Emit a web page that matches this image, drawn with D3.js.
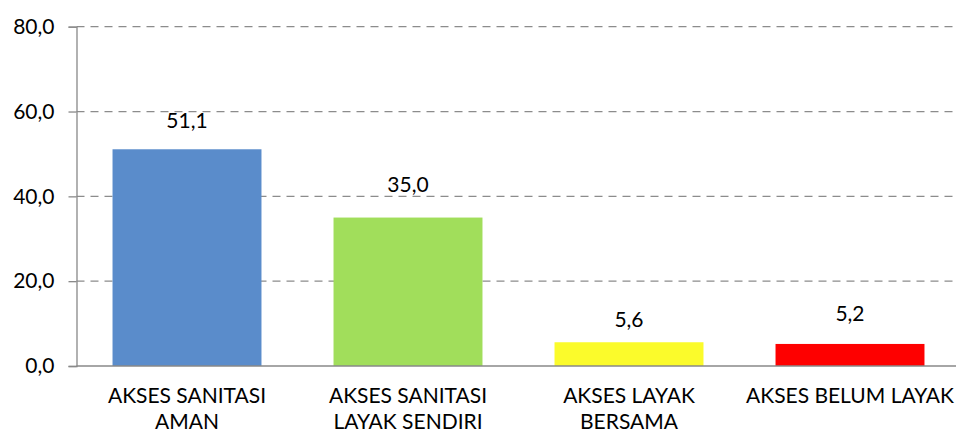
<!DOCTYPE html>
<html>
<head>
<meta charset="utf-8">
<script src="https://cdn.jsdelivr.net/npm/d3@7"></script>
<style>
  html, body { margin: 0; padding: 0; background: #fff; }
  svg { display: block; }
  text { font-family: Lato, "Liberation Sans", sans-serif; fill: #000; }
</style>
</head>
<body>
<svg id="chart" width="956" height="433"></svg>
<script>
// Sanitation access shares (%)
const categories = ["AKSES SANITASI AMAN", "AKSES SANITASI LAYAK SENDIRI", "AKSES LAYAK BERSAMA", "AKSES BELUM LAYAK"];
const categoryLines = [["AKSES SANITASI", "AMAN"], ["AKSES SANITASI", "LAYAK SENDIRI"], ["AKSES LAYAK", "BERSAMA"], ["AKSES BELUM LAYAK"]];
const values = [51.1, 35.0, 5.6, 5.2];
const yTicks = [0, 20, 40, 60, 80];
const barColors = ["#5a8ccb", "#a1de5b", "#fbfb2b", "#fe0000"];
// vertical nudge of each value label above its bar (px)
const labelLift = [21, 25.5, 15.5, 23];

const svg = d3.select("#chart");
const plotLeft = 76.5, plotRight = 960.5, plotTop = 26.7, plotBottom = 366;
const fontSize = 21;
const fmt = v => d3.format(".1f")(v).replace(".", ",");

const x = d3.scaleBand().domain(categories).range([plotLeft, plotRight])
  .paddingInner(0.326).paddingOuter(0.163);
const y = d3.scaleLinear().domain([0, 80]).range([plotBottom, plotTop]);

// dashed gridlines
svg.append("g").selectAll("line").data(yTicks.filter(t => t > 0)).join("line")
  .attr("x1", plotLeft).attr("x2", 953)
  .attr("y1", d => y(d)).attr("y2", d => y(d))
  .attr("stroke", "#8c8c8c").attr("stroke-width", 1.3)
  .attr("stroke-dasharray", "8,6");

// bars
svg.append("g").selectAll("rect").data(values).join("rect")
  .attr("x", (d, i) => x(categories[i]))
  .attr("width", x.bandwidth())
  .attr("y", d => y(d))
  .attr("height", d => y(0) - y(d))
  .attr("fill", (d, i) => barColors[i]);

// y axis
const yAxis = d3.axisLeft(y).tickValues(yTicks).tickFormat(fmt).tickSize(8).tickPadding(14);
const gy = svg.append("g").attr("transform", `translate(${plotLeft},0)`).call(yAxis);
gy.select(".domain").attr("stroke", "#898989").attr("stroke-width", 1.3);
gy.selectAll(".tick line").attr("stroke", "#898989").attr("stroke-width", 1.3);
gy.selectAll(".tick text").style("font-size", fontSize + "px").attr("fill", "#000")
  .style("font-family", "Lato, 'Liberation Sans', sans-serif");

// x baseline
svg.append("line").attr("x1", plotLeft).attr("x2", 956)
  .attr("y1", y(0)).attr("y2", y(0))
  .attr("stroke", "#898989").attr("stroke-width", 1.3);

// value labels
svg.append("g").selectAll("text").data(values).join("text")
  .attr("x", (d, i) => x(categories[i]) + x.bandwidth() / 2)
  .attr("y", (d, i) => y(d) - labelLift[i])
  .attr("text-anchor", "middle")
  .style("font-size", fontSize + "px")
  .text(d => fmt(d));

// category labels
const cat = svg.append("g").selectAll("text").data(categories).join("text")
  .attr("x", d => x(d) + x.bandwidth() / 2)
  .attr("y", 403)
  .attr("text-anchor", "middle")
  .style("font-size", fontSize + "px");
cat.each(function(d, i) {
  const t = d3.select(this);
  categoryLines[i].forEach((line, k) => {
    t.append("tspan").attr("x", x(d) + x.bandwidth() / 2)
      .attr("dy", k === 0 ? 0 : 26).text(line);
  });
});
</script>
</body>
</html>
